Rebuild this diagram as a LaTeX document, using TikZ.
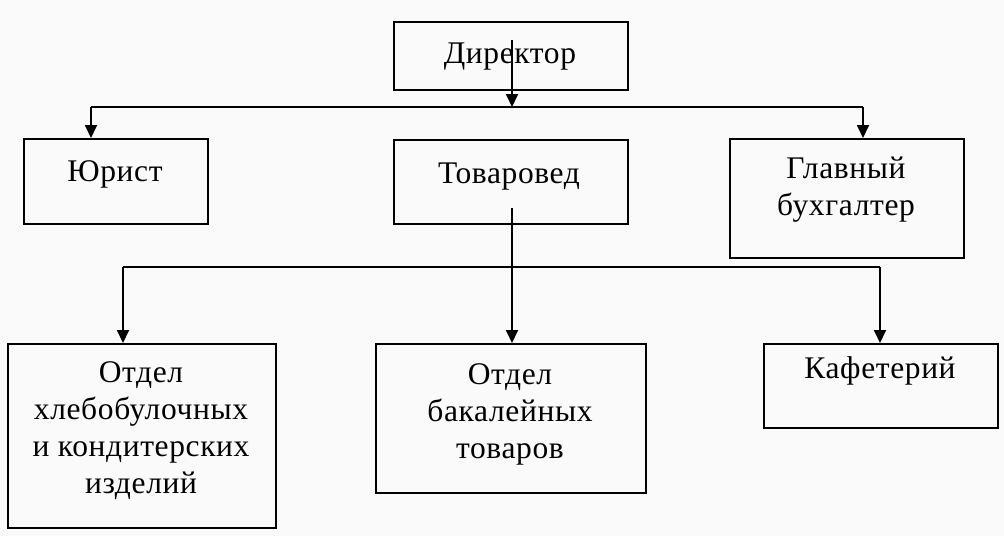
\documentclass[tikz,border=0pt]{standalone}
\usepackage{fontspec}
\setmainfont{Liberation Serif}[LetterSpace=2]
\usetikzlibrary{arrows.meta}
\definecolor{bgcol}{RGB}{250,250,250}
\begin{document}
\begin{tikzpicture}[x=1pt,y=-1pt,
  box/.style={draw=black, line width=2pt, anchor=north west, inner sep=0pt},
  lbl/.style={font=\fontsize{31.5}{37}\selectfont, align=center, inner sep=0pt, anchor=base},
  conn/.style={line width=1.8pt},
  arr/.style={conn, -{Triangle[width=12pt,length=13pt]}}]
\fill[bgcol] (0,0) rectangle (1004,536);
% boxes
\node[box, minimum width=234pt, minimum height=68pt] (dir) at (393,21) {};
\node[box, minimum width=184pt, minimum height=85pt] (jur) at (23,138) {};
\node[box, minimum width=234pt, minimum height=84pt] (tov) at (393,139) {};
\node[box, minimum width=234pt, minimum height=119pt] (glav) at (729,138) {};
\node[box, minimum width=268pt, minimum height=184pt] (xleb) at (7,343) {};
\node[box, minimum width=270pt, minimum height=149pt] (bak) at (375,343) {};
\node[box, minimum width=234pt, minimum height=84pt] (kaf) at (763,343) {};
% labels (base = baseline of the last line)
\node[lbl] (tdir) at (510,63) {Директор};
\node[lbl] (tjur) at (115,181) {Юрист};
\node[lbl] (ttov) at (509,183) {Товаровед};
\node[lbl] (tglav) at (846,215) {Главный\\бухгалтер};
\node[lbl] (txleb) at (141,493) {Отдел\\хлебобулочных\\и кондитерских\\изделий};
\node[lbl] (tbak) at (510,458) {Отдел\\бакалейных\\товаров};
\node[lbl] (tkaf) at (880,378) {Кафетерий};
% connector points
\coordinate (d0) at (512,40);
\coordinate (h1) at (512,107);
\coordinate (hl) at (91,107);
\coordinate (hr) at (863,107);
\coordinate (t0) at (512,208);
\coordinate (gl) at (123,267);
\coordinate (gr) at (880,267);
% connectors
\draw[arr] (d0) -- (h1);
\draw[conn] (hl) -- (hr);
\draw[arr] (hl) -- (hl |- jur.north);
\draw[arr] (hr) -- (hr |- glav.north);
\draw[arr] (t0) -- (t0 |- bak.north);
\draw[conn] (gl) -- (gr);
\draw[arr] (gl) -- (gl |- xleb.north);
\draw[arr] (gr) -- (gr |- kaf.north);
\end{tikzpicture}
\end{document}
